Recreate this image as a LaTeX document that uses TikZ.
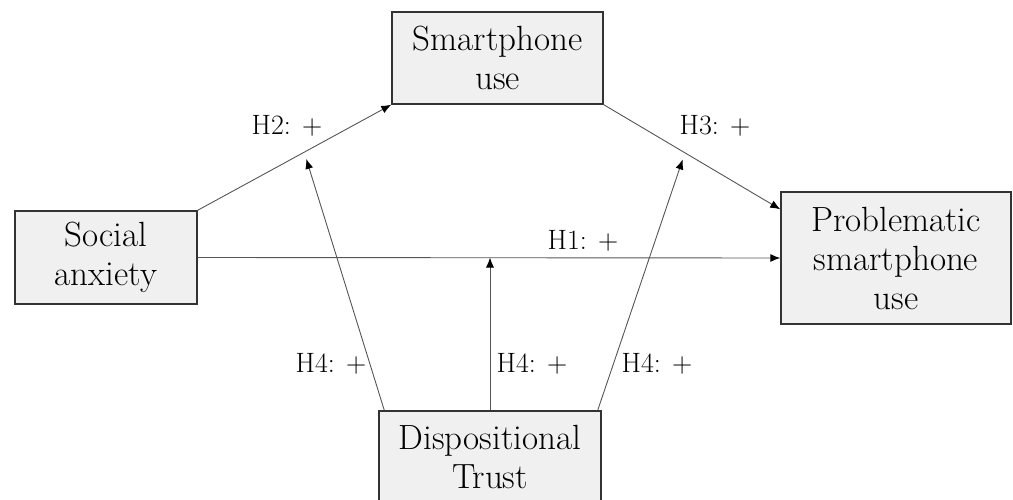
\documentclass[tikz,border=0pt]{standalone}
\usetikzlibrary{arrows.meta,calc}
\definecolor{boxfill}{HTML}{F0F0F0}
\definecolor{boxline}{HTML}{333333}
\definecolor{arrline}{HTML}{555555}
\begin{document}
\begin{tikzpicture}[x=1pt,y=-1pt,
  box/.style={draw=boxline,line width=1.4pt,fill=boxfill,align=center,inner sep=0pt,
    font=\fontsize{35}{39}\selectfont},
  lab/.style={font=\fontsize{28}{32}\selectfont,inner sep=0pt},
  arr/.style={draw=arrline,line width=0.9pt,-{Latex[length=10pt,width=8pt,fill=black,color=black]}}]
\useasboundingbox (0,0) rectangle (1013,500);
\node[box,minimum width=211pt,minimum height=92pt] (sm) at (497.5,58) {Smartphone\\use};
\node[box,minimum width=182pt,minimum height=93pt] (sa) at (106,257.5) {Social\\anxiety};
\node[box,minimum width=230pt,minimum height=132pt] (ps) at (896,258) {Problematic\\smartphone\\use};
\node[box,minimum width=222pt,minimum height=92pt] (dt) at (490,457) {Dispositional\\Trust};

\draw[arr] (sa.north east) -- (sm.south west) coordinate[pos=0.55] (h2m);
\coordinate (h3end) at ($(ps.north west)+(0,18)$);
\draw[arr] (sm.south east) -- (h3end) coordinate[pos=0.46] (h3m);
\draw[arr] (sa.east) -- (ps.west);
\coordinate (h1m) at (dt.north |- sa.east);

\draw[arr,shorten >=7pt] ($(dt.north west)+(6,0)$) -- (h2m);
\draw[arr] (dt.north) -- (h1m);
\draw[arr,shorten >=7pt] ($(dt.north east)+(-4,0)$) -- (h3m);

\node[lab] (l2) at (287,126) {H2: +};
\node[lab] (l3) at (715,126) {H3: +};
\node[lab] (l1) at (583,241) {H1: +};
\node[lab] (l4a) at (331,364) {H4: +};
\node[lab] (l4b) at (532,364) {H4: +};
\node[lab] (l4c) at (657,364) {H4: +};
\end{tikzpicture}
\end{document}
